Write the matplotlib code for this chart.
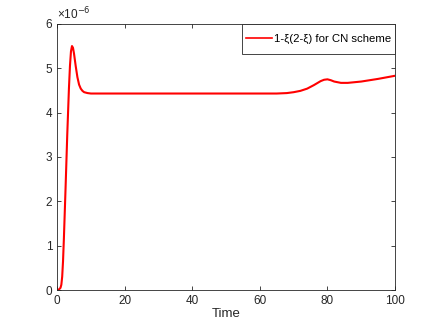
import matplotlib.pyplot as plt
from matplotlib.patches import Rectangle

plt.rcParams['font.family'] = ['Liberation Sans', 'DejaVu Sans']

# time points and values (x 1e-6)
t = [0, 0.5, 1, 1.25, 1.5, 1.75, 2, 2.5, 3, 3.5, 3.8, 4.1, 4.4, 4.7, 5, 5.5, 6, 6.5, 7, 7.5, 8, 9, 10,
     12, 20, 40, 60, 65, 68, 70, 72, 74, 76, 78, 79, 80, 81, 82, 84, 86, 90, 95, 100]
err = [0, 0.01, 0.05, 0.12, 0.3, 0.65, 1.15, 2.3, 3.5, 4.55, 5.05, 5.38, 5.5, 5.46,
       5.33, 5.05, 4.8, 4.63, 4.54, 4.49, 4.46, 4.44, 4.43, 4.43, 4.43, 4.43, 4.43,
       4.43, 4.44, 4.46, 4.49, 4.54, 4.62, 4.71, 4.74, 4.75, 4.73, 4.70, 4.67, 4.67,
       4.70, 4.76, 4.83]

xticks = [0, 20, 40, 60, 80, 100]
yticks = [0, 1, 2, 3, 4, 5, 6]

gray = '#262626'

fig = plt.figure(figsize=(4.36, 3.27), dpi=100)
ax = fig.add_axes([0.131, 0.113, 0.775, 0.814])

ax.plot(t, err, color='red', linewidth=1.5, label='1-ξ(2-ξ) for CN scheme')

ax.set_xlim(0, 100)
ax.set_ylim(0, 6)
ax.set_xticks(xticks)
ax.set_yticks(yticks)
ax.tick_params(direction='in', top=True, right=True, labelsize=8.5,
               colors=gray, length=3, width=0.6)
for s in ax.spines.values():
    s.set_color(gray)
    s.set_linewidth(0.6)

ax.set_xlabel('Time', fontsize=9.5, color=gray, labelpad=1)
ax.text(0.0, 1.005, '×10$^{-6}$', transform=ax.transAxes, fontsize=8.5,
        color=gray, ha='left', va='bottom')

# legend box drawn separately so it can be taller than the text
ax.add_patch(Rectangle((0.546, 0.885), 0.454, 0.115, transform=ax.transAxes,
                       facecolor='white', edgecolor=gray, linewidth=0.6,
                       zorder=4, clip_on=False))
leg = ax.legend(loc='center right', bbox_to_anchor=(0.995, 0.9425),
                fontsize=8.2, frameon=False, borderaxespad=0,
                handlelength=2.2, handletextpad=0.2, borderpad=0.2)
leg.set_zorder(5)
for h in leg.get_lines():
    h.set_linewidth(1.2)

fig.savefig('out.png', dpi=100)
